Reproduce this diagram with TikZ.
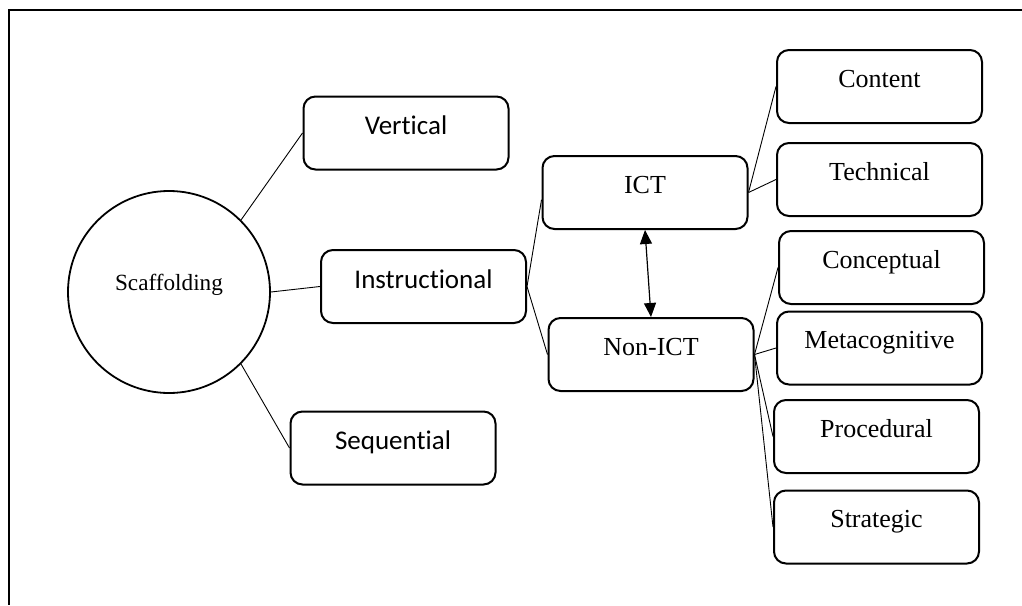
\documentclass[tikz,border=0pt]{standalone}
\usepackage{fontspec}
\setmainfont{Liberation Serif}
\newfontfamily\calibri[Ligatures=NoCommon]{Carlito}
\usetikzlibrary{arrows.meta}

\begin{document}
\begin{tikzpicture}[x=0.5pt, y=-0.5pt,
	box/.style={rectangle, rounded corners=6pt, draw, line width=1pt, minimum width=102.5pt, minimum height=36.5pt, inner sep=0pt},
	sansbox/.style={box, font=\calibri\fontsize{13.5}{16}\selectfont, text height=8pt, text depth=6.3pt},
	serifbox/.style={box, font=\fontsize{13}{15}\selectfont, text height=7pt, text depth=6.4pt},
	link/.style={line width=0.45pt}]
	\useasboundingbox (0,0) rectangle (1022,605);
	\draw[line width=0.9pt] (1022,10) -- (9,10) -- (9,605); % open frame

	\node[circle, draw, line width=0.9pt, minimum size=101pt, inner sep=0pt, font=\fontsize{11.6}{13}\selectfont, text height=6pt, text depth=8pt] (scaf) at (169,292) {Scaffolding};
	\node[sansbox] (vert) at (406,133) {Vertical};
	\node[sansbox] (instr) at (423.5,286.5) {Instructional};
	\node[sansbox] (seq) at (393,448) {Sequential};

	\node[serifbox] (ict) at (645,192.5) {ICT};
	\node[serifbox] (nonict) at (651,354.5) {Non-ICT};

	\node[serifbox] (cont) at (879.5,86.5) {Content};
	\node[serifbox] (tech) at (879.5,179.5) {Technical};
	\node[serifbox] (conc) at (881.5,267.5) {Conceptual};
	\node[serifbox] (meta) at (879.5,348) {Metacognitive};
	\node[serifbox] (proc) at (876.5,436.5) {Procedural};
	\node[serifbox] (strat) at (876.5,527) {Strategic};

	\draw[link] (scaf.45) -- (vert.west);
	\draw[link] (scaf.east) -- (instr.west);
	\draw[link] (scaf.-45) -- (seq.west);
	\draw[link] (instr.east) -- (ict.184);
	\draw[link] (instr.east) -- (nonict.west);
	\draw[link] (ict.east) -- (cont.west);
	\draw[link] (ict.east) -- (tech.west);
	\foreach \kid in {conc,meta,proc,strat}
		\draw[link] (nonict.east) -- (\kid.west);
	\draw[line width=0.6pt, {Triangle[length=7pt,width=6pt]}-{Triangle[length=7pt,width=6pt]}] (ict.south) -- (nonict.north); % two-way link
\end{tikzpicture}
\end{document}
